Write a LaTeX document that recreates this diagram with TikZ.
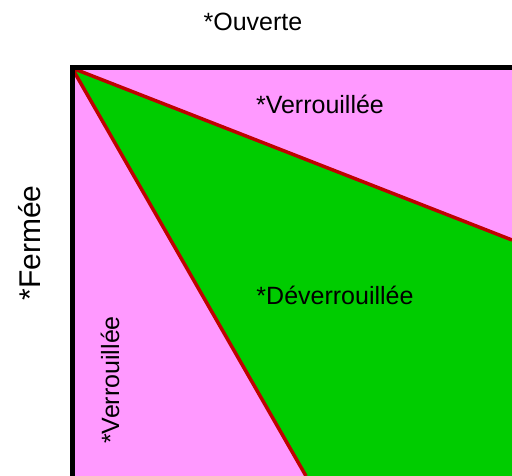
\documentclass[tikz,border=0pt]{standalone}
\usepackage{fontspec}
\setmainfont{Liberation Sans}
\definecolor{pinkfill}{HTML}{FF99FF}
\definecolor{greenfill}{HTML}{00CC00}
\definecolor{redline}{HTML}{C00000}
\begin{document}
\begin{tikzpicture}[x=1pt,y=-1pt,
  lbl/.style={inner sep=0pt,font=\fontsize{25}{25}\selectfont},
  biglbl/.style={inner sep=0pt,font=\fontsize{30}{30}\selectfont},
  divider/.style={draw=redline,line width=3.5pt},
  frame/.style={draw=black,line width=5pt}]
\useasboundingbox (0,0) rectangle (512,476);
\fill[white] (0,0) rectangle (512,476);
\coordinate (C) at (72,68);
\coordinate (TR) at (512,68);
\coordinate (BL) at (72,476);
\coordinate (BR) at (512,476);
\coordinate (R1) at (512,240);
\coordinate (B1) at (306,476);
\fill[pinkfill] (C) rectangle (BR);
\fill[greenfill] (C) -- (R1) -- (BR) -- (B1) -- cycle;
\draw[divider] (C) -- (R1);
\draw[divider] (C) -- (B1);
\draw[frame,line cap=round] (BL) -- (C) -- (TR);
\node[lbl,anchor=base] (ouv) at (253,31) {*Ouverte};
\node[lbl,anchor=base] (ver1) at (320,114) {*Verrouillée};
\node[lbl,anchor=base] (dev) at (335,305) {*Déverrouillée};
\node[biglbl,anchor=base,rotate=90] (fer) at (40,243) {*Fermée};
\node[lbl,anchor=base,rotate=90] (ver2) at (119,380) {*Verrouillée};
\end{tikzpicture}
\end{document}
